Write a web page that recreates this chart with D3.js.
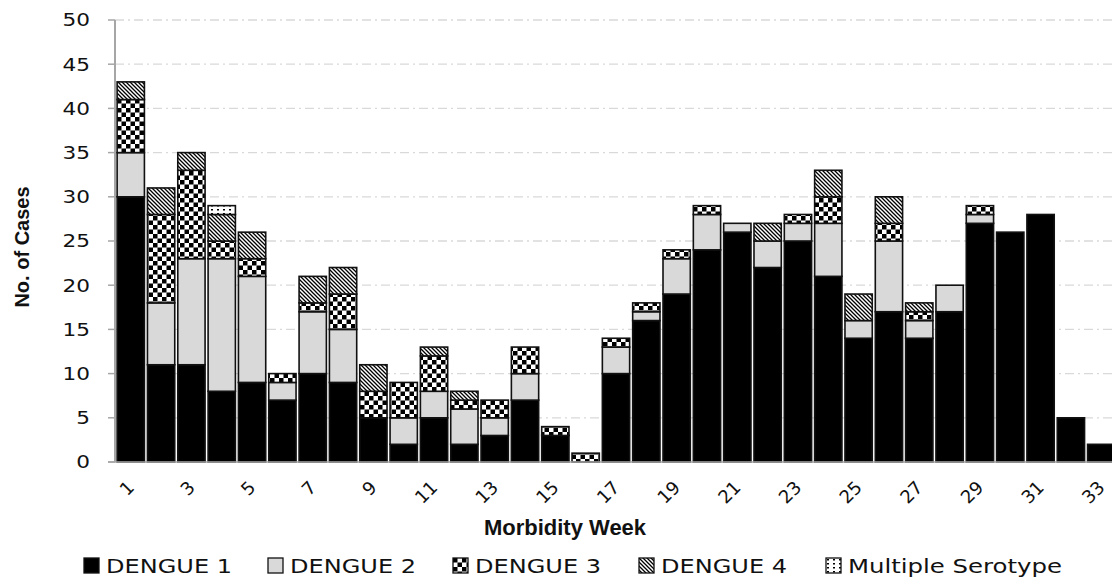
<!DOCTYPE html>
<html>
<head>
<meta charset="utf-8">
<script src="https://cdn.jsdelivr.net/npm/d3@7"></script>
<style>
  body { margin: 0; background: #fff; }
  svg { display: block; }
</style>
</head>
<body>
<svg id="chart"></svg>
<script>
var weeks = d3.range(1, 34);
var seriesNames = ["DENGUE 1", "DENGUE 2", "DENGUE 3", "DENGUE 4", "Multiple Serotype"];
var dengue1 = [30, 11, 11, 8, 9, 7, 10, 9, 5, 2, 5, 2, 3, 7, 3, 0, 10, 16, 19, 24, 26, 22, 25, 21, 14, 17, 14, 17, 27, 26, 28, 5, 2];
var dengue2 = [5, 7, 12, 15, 12, 2, 7, 6, 0, 3, 3, 4, 2, 3, 0, 0, 3, 1, 4, 4, 1, 3, 2, 6, 2, 8, 2, 3, 1, 0, 0, 0, 0];
var dengue3 = [6, 10, 10, 2, 2, 1, 1, 4, 3, 4, 4, 1, 2, 3, 1, 1, 1, 1, 1, 1, 0, 0, 1, 3, 0, 2, 1, 0, 1, 0, 0, 0, 0];
var dengue4 = [2, 3, 2, 3, 3, 0, 3, 3, 3, 0, 1, 1, 0, 0, 0, 0, 0, 0, 0, 0, 0, 2, 0, 3, 3, 3, 1, 0, 0, 0, 0, 0, 0];
var multiple = [0, 0, 0, 1, 0, 0, 0, 0, 0, 0, 0, 0, 0, 0, 0, 0, 0, 0, 0, 0, 0, 0, 0, 0, 0, 0, 0, 0, 0, 0, 0, 0, 0];
var yTicks = [0, 5, 10, 15, 20, 25, 30, 35, 40, 45, 50];
var xTickLabels = weeks.filter(function(d) { return d % 2 === 1; });

var w = 1112, h = 577;
var svg = d3.select("#chart").attr("width", w).attr("height", h);

var defs = svg.append("defs");
// checkerboard for dengue 3
var p3 = defs.append("pattern").attr("id", "pat3").attr("patternUnits", "userSpaceOnUse")
    .attr("width", 9).attr("height", 9);
p3.append("rect").attr("width", 9).attr("height", 9).attr("fill", "#fff");
p3.append("rect").attr("width", 4.5).attr("height", 4.5).attr("fill", "#000");
p3.append("rect").attr("x", 4.5).attr("y", 4.5).attr("width", 4.5).attr("height", 4.5).attr("fill", "#000");
// diagonal hatch for dengue 4
var p4 = defs.append("pattern").attr("id", "pat4").attr("patternUnits", "userSpaceOnUse")
    .attr("width", 4).attr("height", 4);
p4.append("rect").attr("width", 4).attr("height", 4).attr("fill", "#fff");
p4.append("path").attr("d", "M0,0 L4,4 M-1,3 L1,5 M3,-1 L5,1")
    .attr("stroke", "#000").attr("stroke-width", 1.3);
// dots for multiple
var p5 = defs.append("pattern").attr("id", "pat5").attr("patternUnits", "userSpaceOnUse")
    .attr("width", 6).attr("height", 4);
p5.append("rect").attr("width", 6).attr("height", 4).attr("fill", "#fff");
p5.append("rect").attr("x", 1).attr("y", 1).attr("width", 2).attr("height", 1.5).attr("fill", "#000");

var fills = ["#000", "#d9d9d9", "url(#pat3)", "url(#pat4)", "url(#pat5)"];

var x = d3.scaleBand().domain(weeks).range([115, 1117]).paddingInner(0.1).paddingOuter(0.07);
var y = d3.scaleLinear().domain([0, 50]).range([462, 20]);

// grid
svg.append("g").selectAll("line").data(yTicks.filter(function(d) { return d > 0; }))
  .enter().append("line")
  .attr("x1", 115).attr("x2", w)
  .attr("y1", function(d) { return y(d); }).attr("y2", function(d) { return y(d); })
  .attr("stroke", "#d9d9d9").attr("stroke-width", 1.3)
  .attr("stroke-dasharray", "9,4,2,4");

// stacked data
var table = weeks.map(function(wk, i) {
  return { week: wk, s0: dengue1[i], s1: dengue2[i], s2: dengue3[i], s3: dengue4[i], s4: multiple[i] };
});
var stack = d3.stack().keys(["s0", "s1", "s2", "s3", "s4"])(table);

svg.append("g").selectAll("g").data(stack).enter().append("g")
  .attr("fill", function(d, i) { return fills[i]; })
  .selectAll("rect")
  .data(function(d) { return d.filter(function(p) { return p[1] - p[0] > 0; }); })
  .enter().append("rect")
  .attr("x", function(d) { return x(d.data.week); })
  .attr("y", function(d) { return y(d[1]); })
  .attr("width", x.bandwidth())
  .attr("height", function(d) { return y(d[0]) - y(d[1]); })
  .attr("stroke", "#111").attr("stroke-width", 1.6);

// axes
svg.append("line").attr("x1", 115).attr("x2", 115).attr("y1", 20).attr("y2", 462)
  .attr("stroke", "#a6a6a6").attr("stroke-width", 2);
svg.append("line").attr("x1", 108).attr("x2", w).attr("y1", 462).attr("y2", 462)
  .attr("stroke", "#a6a6a6").attr("stroke-width", 1.5);

var yAxis = svg.append("g");
yAxis.selectAll("line").data(yTicks).enter().append("line")
  .attr("x1", 108).attr("x2", 115)
  .attr("y1", function(d) { return y(d); }).attr("y2", function(d) { return y(d); })
  .attr("stroke", "#a6a6a6").attr("stroke-width", 1.5);
yAxis.selectAll("text").data(yTicks).enter().append("text")
  .attr("transform", function(d) { return "translate(90," + y(d) + ") scale(1.2,1)"; })
  .attr("dy", "0.36em")
  .attr("text-anchor", "end")
  .attr("font-family", "DejaVu Sans, Verdana, sans-serif")
  .attr("font-size", 18)
  .attr("fill", "#111")
  .text(function(d) { return d; });

svg.append("g").selectAll("text").data(xTickLabels).enter().append("text")
  .attr("transform", function(d) {
    return "translate(" + (x(d) + x.bandwidth() / 2) + ",484) rotate(-45)";
  })
  .attr("text-anchor", "end")
  .attr("dy", "0.36em")
  .attr("font-family", "DejaVu Sans, Verdana, sans-serif")
  .attr("font-size", 18)
  .attr("fill", "#111")
  .text(function(d) { return d; });

// titles
svg.append("text")
  .attr("transform", "translate(29,247) rotate(-90)")
  .attr("text-anchor", "middle")
  .attr("font-family", "Liberation Sans, Arial, sans-serif")
  .attr("font-weight", "bold")
  .attr("font-size", 20)
  .attr("fill", "#111")
  .text("No. of Cases");

svg.append("text")
  .attr("x", 565).attr("y", 535)
  .attr("text-anchor", "middle")
  .attr("font-family", "Liberation Sans Narrow, Arial Narrow, sans-serif")
  .attr("font-weight", "bold")
  .attr("font-size", 22)
  .attr("fill", "#111")
  .text("Morbidity Week");

// legend
var legendX = [84, 268, 453, 639, 826];
var legendW = [126, 126, 126, 126, 214];
var lg = svg.append("g").selectAll("g").data(seriesNames).enter().append("g")
  .attr("transform", function(d, i) { return "translate(" + legendX[i] + ",558)"; });
lg.append("rect").attr("width", 15).attr("height", 15)
  .attr("fill", function(d, i) { return fills[i]; })
  .attr("stroke", "#111").attr("stroke-width", 1.3);
lg.append("text")
  .attr("x", 22).attr("y", 15)
  .attr("font-family", "DejaVu Sans, Verdana, sans-serif")
  .attr("font-size", 20)
  .attr("fill", "#111")
  .attr("textLength", function(d, i) { return legendW[i]; })
  .attr("lengthAdjust", "spacingAndGlyphs")
  .text(function(d) { return d; });
</script>
</body>
</html>
